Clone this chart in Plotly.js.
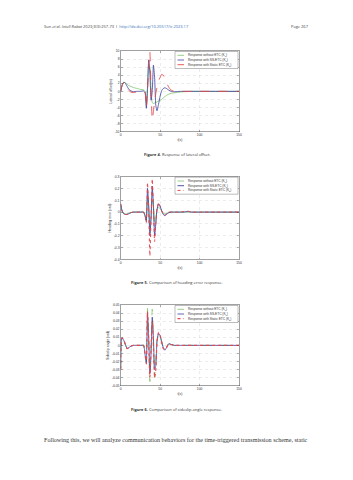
<!DOCTYPE html>
<html><head><meta charset="utf-8">
<script src="https://cdn.plot.ly/plotly-3.0.1.min.js"></script>
<style>html,body{margin:0;padding:0;background:#fff;}#chart{width:353px;height:480px;}</style>
</head><body><div id="chart"></div>
<script>
// ---- data ----
const timeSec = [0,1,2,4,6,8,10,13,16,20,25,29,31,32.5,34,35.5,37,38.5,40,41.5,43,44.5,46,48,50,52,54,56,58,61,64,68,72,76,80,85,90,100,120,150];

const seriesNames = [
  "Response without ETC (K<sub>0</sub>)",
  "Response with SS-ETC (K<sub>1</sub>)",
  "Response with Static ETC (K<sub>2</sub>)"
];

// Figure 4: lateral offset (m)
const lateralNoETC  = [0,0.9,1.6,2.2,2.1,1.8,1.5,1.2,0.95,0.75,0.5,0.35,0,-3.5,1.5,6.5,6,0.5,-2.8,-3,-2.9,-2.8,-2.6,-2.4,-2.2,-2,-1.6,-1.3,-1,-0.7,-0.5,-0.35,-0.25,-0.15,-0.1,-0.05,0,0,0,0];
const lateralSSETC  = [0,0.9,1.7,2.3,2.0,1.3,0.6,0.1,-0.1,0,0,0.1,-0.3,-4.2,0.5,7.8,4.5,-2.2,0,6.5,3.5,-3.5,-4.8,-3.2,-1.2,0.2,0.7,0.9,0.7,0.3,0,-0.1,-0.05,0,0,0,0,0,0,0];
const lateralStatic = [0,0.9,1.6,2.2,1.9,1.0,0.3,-0.2,-0.3,-0.15,0,0.05,-0.4,-4,0,6,9.8,0,-7,-5,-2.5,-0.5,1,2.5,3.5,4.2,4,3.2,2.2,1,0.3,0,0,0,0,0,0,0,0,0];

// Figure 5: heading error (rad)
const headingNoETC  = [0.06,0.03,0.01,-0.01,-0.015,-0.015,-0.01,-0.003,0,0,0,0,-0.04,-0.07,0.12,0.05,-0.12,-0.05,0.1,0.05,-0.08,-0.06,0.02,0.04,0.03,0.01,-0.01,-0.015,-0.01,0,0,0,0,0,0,0,0,0,0,0];
const headingSSETC  = [0.07,0.03,0.005,-0.015,-0.02,-0.02,-0.015,-0.005,0,0,0,0,-0.03,-0.08,0.2,0.05,-0.2,-0.05,0.22,0.05,-0.2,-0.1,0.02,0.07,0.05,0.01,-0.02,-0.03,-0.02,-0.005,0,0,0,0,0,0.005,0,0,0,0];
const headingStatic = [0.07,0.03,0.005,-0.015,-0.02,-0.02,-0.015,-0.005,0,0,0,0,-0.03,-0.09,0.25,0,-0.37,-0.05,0.28,0.05,-0.25,-0.1,0.03,0.08,0.05,0.01,-0.02,-0.025,-0.015,0,0,0,0,0.003,0.005,0.008,0,0,0,0];

// Figure 6: sideslip angle (rad)
const sideslipNoETC  = [-0.03,0.008,0.009,0.006,0.001,-0.004,-0.003,-0.001,0,0,0,0,-0.01,-0.02,0.046,0,-0.045,0,0.045,0,-0.04,-0.02,0.005,0.016,0.012,0.004,-0.003,-0.005,-0.002,0.002,0.001,0,0,0,0,0,0,0,0,0];
const sideslipSSETC  = [-0.028,0.008,0.009,0.006,0.001,-0.004,-0.003,-0.001,0,0,0,0,-0.012,-0.022,0.04,0.01,-0.035,-0.01,0.035,0.01,-0.03,-0.025,0.005,0.015,0.012,0.004,-0.003,-0.006,-0.003,0.002,0.001,0,0,0,0,0,0,0,0,0];
const sideslipStatic = [-0.03,0.008,0.009,0.006,0.001,-0.004,-0.003,-0.001,0,0,0,0,-0.012,-0.023,0.042,0.005,-0.04,-0.005,0.03,0,-0.04,-0.03,0.004,0.016,0.012,0.004,-0.004,-0.005,-0.003,0.002,0.001,0,0,0,0,0,0,0,0,0];

const xTickVals = [0,50,100,150];
const lateralTicks  = [-10,-8,-6,-4,-2,0,2,4,6,8,10];
const headingTicks  = [-0.4,-0.3,-0.2,-0.1,0,0.1,0.2,0.3];
const sideslipTicks = [-0.05,-0.04,-0.03,-0.02,-0.01,0,0.01,0.02,0.03,0.04,0.05];

// ---- styling ----
const W = 353, H = 480;
const px = v => v / W, py = v => 1 - v / H;
const GREEN = '#7dc46c', BLUE = '#3b3f9c', RED = '#e6474b';
const FONT = 'Liberation Sans, Arial, sans-serif';
const styles = [
  [{color:GREEN,width:0.8,dash:'solid'},{color:BLUE,width:0.8,dash:'solid'},{color:RED,width:0.9,dash:'dash'}],
  [{color:GREEN,width:0.8,dash:'solid'},{color:BLUE,width:0.9,dash:'solid'},{color:RED,width:1.0,dash:'dot'}],
  [{color:GREEN,width:0.8,dash:'dash'},{color:BLUE,width:0.8,dash:'solid'},{color:RED,width:1.2,dash:'dot'}]
];
const panels = [
  {ys:[lateralNoETC,lateralSSETC,lateralStatic], top:51, bottom:131.7, range:[-10,10], ticks:lateralTicks, title:'Lateral offset(m)'},
  {ys:[headingNoETC,headingSSETC,headingStatic], top:176.7, bottom:259.3, range:[-0.4,0.3], ticks:headingTicks, title:'Heading error (rad)'},
  {ys:[sideslipNoETC,sideslipSSETC,sideslipStatic], top:305, bottom:385.7, range:[-0.05,0.05], ticks:sideslipTicks, title:'Sideslip angle (rad)'}
];
const axL = 120.7, axR = 239;

const traces = [];
const layout = {
  width: W, height: H, margin:{l:0,r:0,t:0,b:0},
  paper_bgcolor:'#fff', plot_bgcolor:'#fff', showlegend:false,
  font:{family:FONT, size:3.4, color:'#333'},
  shapes:[], annotations:[]
};

panels.forEach((p, i) => {
  const n = i === 0 ? '' : String(i + 1);
  p.ys.forEach((ys, k) => {
    traces.push({
      x: timeSec, y: ys, type:'scatter', mode:'lines', name: seriesNames[k],
      xaxis:'x'+n, yaxis:'y'+n, line:Object.assign({shape:'spline', smoothing:0.45}, styles[i][k]),
      hoverinfo:'skip'
    });
  });
  const axCommon = {
    showline:true, mirror:'ticks', linecolor:'#444', linewidth:0.5,
    ticks:'inside', ticklen:1.8, tickwidth:0.4, tickcolor:'#444',
    showgrid:true, gridcolor:'#cfcfcf', gridwidth:0.4, griddash:'dot',
    zeroline:false, tickfont:{family:FONT, size:3.4, color:'#333'}
  };
  layout['xaxis'+n] = Object.assign({}, axCommon, {
    domain:[px(axL), px(axR)], anchor:'y'+n, range:[0,150],
    tickvals:xTickVals, ticktext:xTickVals.map(String),
    title:{text:'t(s)', font:{family:FONT,size:3.4,color:'#333'}, standoff:1.5}
  });
  layout['yaxis'+n] = Object.assign({}, axCommon, {
    domain:[py(p.bottom), py(p.top)], anchor:'x'+n, range:p.range,
    tickvals:p.ticks, ticktext:p.ticks.map(v => String(v)),
    title:{text:p.title, font:{family:FONT,size:3.4,color:'#333'}, standoff:2}
  });
  // legend box (drawn as layout decoration)
  const bT = p.top + 0.5, bL = 175, bR = 238, bH = 17;
  layout.shapes.push({type:'rect', xref:'paper', yref:'paper', x0:px(bL), x1:px(bR), y0:py(bT+bH), y1:py(bT),
    line:{color:'#555', width:0.4}, fillcolor:'#fff', layer:'above'});
  [3.8, 8.5, 13.2].forEach((dy, k) => {
    const yy = py(bT + dy);
    layout.shapes.push({type:'line', xref:'paper', yref:'paper', x0:px(177.5), x1:px(184), y0:yy, y1:yy,
      line:{color:styles[i][k].color, width:styles[i][k].width, dash:styles[i][k].dash}, layer:'above'});
    layout.annotations.push({xref:'paper', yref:'paper', x:px(185.5), y:yy, xanchor:'left', yanchor:'middle',
      text:seriesNames[k], showarrow:false, font:{family:FONT,size:3.2,color:'#333'}});
  });
});

// page texts
const captions = [
  ['<b>Figure 4.</b> Response of lateral offset.', 154.5],
  ['<b>Figure 5.</b> Comparison of heading error response.', 282.5],
  ['<b>Figure 6.</b> Comparison of sideslip angle response.', 409.5]
];
captions.forEach(([t, y]) => layout.annotations.push({xref:'paper', yref:'paper', x:px(176.5), y:py(y),
  xanchor:'center', yanchor:'middle', text:t, showarrow:false, font:{family:'Open Sans, sans-serif', size:4, color:'#333'}}));
layout.annotations.push({xref:'paper', yref:'paper', x:px(42), y:py(26.5), xanchor:'left', yanchor:'middle', showarrow:false,
  text:'Sun <i>et al</i>. <i>Intell Robot</i> 2023;3(3):257-73  I  <span style="color:#3b6fb6">http://dx.doi.org/10.20517/ir.2023.17</span>',
  font:{family:'Open Sans, sans-serif', size:4, color:'#444'}});
layout.annotations.push({xref:'paper', yref:'paper', x:px(311), y:py(26.5), xanchor:'right', yanchor:'middle', showarrow:false,
  text:'Page 267', font:{family:'Open Sans, sans-serif', size:4, color:'#444'}});
layout.annotations.push({xref:'paper', yref:'paper', x:px(42), y:py(439.5), xanchor:'left', yanchor:'middle', showarrow:false,
  text:'Following this, we will analyze communication behaviors for the time-triggered transmission scheme, static',
  font:{family:'Liberation Serif, serif', size:6.1, color:'#333'}});

Plotly.newPlot('chart', traces, layout, {staticPlot:true, displayModeBar:false});
</script></body></html>
